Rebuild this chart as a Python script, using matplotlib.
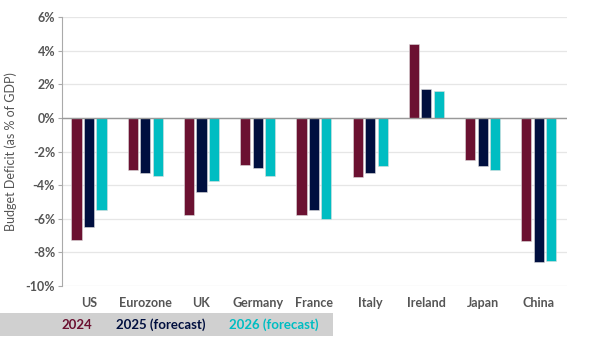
import matplotlib.pyplot as plt
import numpy as np
from matplotlib.patches import Rectangle

plt.rcParams['font.family'] = ['Lato', 'DejaVu Sans']

countries = ['US', 'Eurozone', 'UK', 'Germany', 'France', 'Italy', 'Ireland', 'Japan', 'China']
deficit_2024 = [-7.25, -3.1, -5.8, -2.8, -5.8, -3.5, 4.4, -2.5, -7.3]
deficit_2025 = [-6.5, -3.25, -4.4, -3.0, -5.5, -3.3, 1.7, -2.85, -8.6]
deficit_2026 = [-5.5, -3.45, -3.75, -3.45, -6.0, -2.85, 1.6, -3.1, -8.5]
series_names = ['2024', '2025 (forecast)', '2026 (forecast)']
colors = ['#6b1131', '#000f3f', '#00bdc2']

fig = plt.figure(figsize=(6, 3.52), dpi=100)
ax = fig.add_axes([0.1033, 0.1875, 0.8417, 0.7642])

x = np.arange(len(countries))
width = 0.18
offset = 0.222
for i, vals in enumerate([deficit_2024, deficit_2025, deficit_2026]):
    ax.bar(x + (i - 1) * offset, vals, width, color=colors[i],
           edgecolor='#dddddd', linewidth=0.4, zorder=3)

ax.set_xlim(-0.48, 8.5)
ax.set_ylim(-10, 6)
ax.set_yticks(range(-10, 7, 2))
ax.set_yticklabels([f'{v}%' for v in range(-10, 7, 2)])
ax.set_xticks(x)
ax.set_xticklabels(countries)
ax.grid(axis='y', color='#e6e6e6', linewidth=0.9, zorder=0)
ax.axhline(0, color='#999999', linewidth=1, zorder=4)

for s in ['top', 'right', 'bottom']:
    ax.spines[s].set_visible(False)
ax.spines['left'].set_color('#aaaaaa')
ax.tick_params(axis='y', length=3, color='#aaaaaa', labelsize=9, labelcolor='#555555', pad=2)
ax.tick_params(axis='x', length=0, labelsize=9, labelcolor='#555555', pad=8)
for lab in ax.get_yticklabels() + ax.get_xticklabels():
    lab.set_fontweight('bold')

ax.set_ylabel('Budget Deficit (as % of GDP)', fontsize=9, color='#555555', labelpad=6)

# legend band
fig.patches.append(Rectangle((0, 0.045), 0.555, 0.066, transform=fig.transFigure,
                             facecolor='#d0d0d0', edgecolor='none'))
legend_x = [0.103, 0.193, 0.382]
for name, c, lx in zip(series_names, colors, legend_x):
    fig.text(lx, 0.078, name, color=c, fontsize=9.5, fontweight='bold', va='center')

fig.savefig('out.png', dpi=100)
